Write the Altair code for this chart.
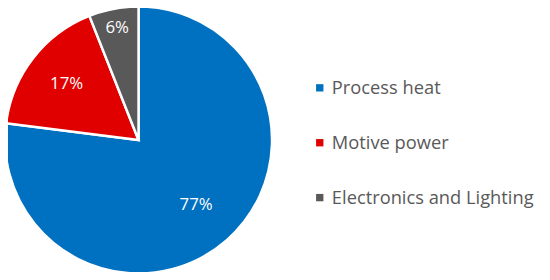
import altair as alt
import pandas as pd

categories = ["Process heat", "Motive power", "Electronics and Lighting"]
shares = [77, 17, 6]
colors = ["#0070C0", "#E00000", "#595959"]

df = pd.DataFrame({"cat": categories, "share": shares, "ord": list(range(len(categories)))})
df["label"] = df["share"].astype(str) + "%"

CX, CY, R = 132, 132, 135

base = alt.Chart(df).encode(
    theta=alt.Theta("share:Q", stack=True),
    order=alt.Order("ord:O"),
    x=alt.value(CX),
    y=alt.value(CY),
)

pie = base.mark_arc(outerRadius=R, stroke="white", strokeWidth=2.5).encode(
    color=alt.Color(
        "cat:N",
        sort=categories,
        scale=alt.Scale(domain=categories, range=colors),
        legend=alt.Legend(
            title=None,
            orient="none",
            legendX=306,
            legendY=70,
            symbolType="square",
            symbolSize=55,
            symbolStrokeWidth=0,
            labelFontSize=18.5,
            labelFont="Open Sans",
            labelColor="#595959",
            rowPadding=36.5,
            labelOffset=3,
            labelLimit=300,
        ),
    )
)

def lab(cat, r):
    return base.mark_text(radius=r, color="white", fontSize=17, font="Open Sans").encode(
        text="label:N",
        opacity=alt.condition(alt.datum.cat == cat, alt.value(1), alt.value(0)),
    )

chart = alt.layer(
    pie, lab("Process heat", 88), lab("Motive power", 92), lab("Electronics and Lighting", 115)
).properties(
    width=540, height=264, autosize=alt.AutoSizeParams(type="none"), padding=0
).configure_view(stroke=None)

chart.save("out.html", embed_options={"renderer": "svg", "actions": False})
